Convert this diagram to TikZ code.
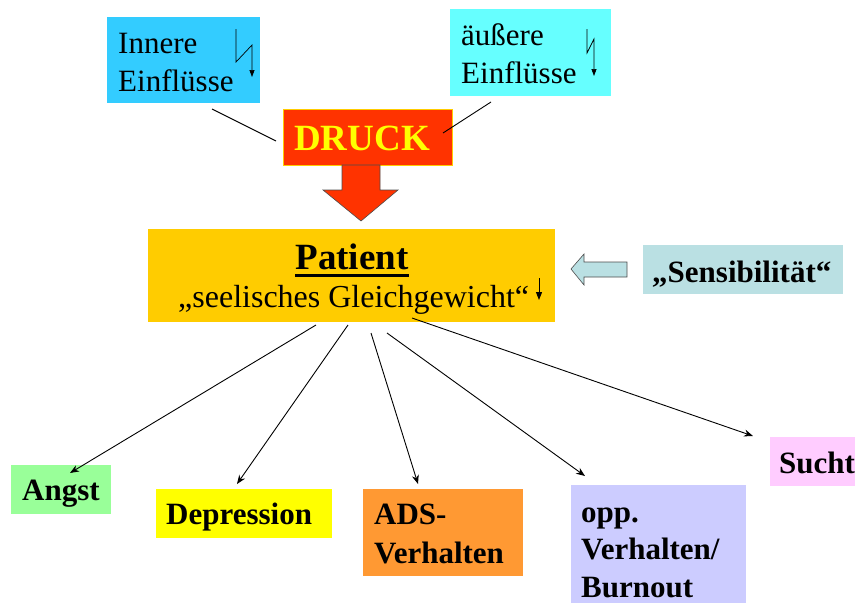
\documentclass[tikz,border=0pt]{standalone}
\usepackage{fontspec}
\setmainfont{Liberation Serif}
\usetikzlibrary{arrows.meta,calc}
\definecolor{cInner}{HTML}{33CCFF}
\definecolor{cOuter}{HTML}{66FFFF}
\definecolor{cDruck}{HTML}{FF3300}
\definecolor{cDruckTxt}{HTML}{FFFF00}
\definecolor{cPatient}{HTML}{FFCC00}
\definecolor{cSens}{HTML}{BAE0E3}
\definecolor{cAngst}{HTML}{99FF99}
\definecolor{cDep}{HTML}{FFFF00}
\definecolor{cADS}{HTML}{FF9933}
\definecolor{cOpp}{HTML}{CCCCFF}
\definecolor{cSucht}{HTML}{FFCCFF}
\begin{document}
\begin{tikzpicture}[x=1pt,y=-1pt,
  box/.style={anchor=north west,inner sep=0pt,outer sep=0pt},
  reg/.style={anchor=base west,inner sep=0pt,font=\fontsize{31}{38}\selectfont},
  bld/.style={anchor=base west,inner sep=0pt,font=\fontsize{31}{38}\selectfont\bfseries},
  conn/.style={line width=0.9pt},
  arr/.style={line width=0.9pt,-{Stealth[length=9pt,width=7pt]}},
  bolt/.style={line width=0.7pt,-{Triangle[length=7pt,width=5pt]}}]
\useasboundingbox (0,0) rectangle (855,603);

% top boxes
\node[box,fill=cInner,minimum width=153pt,minimum height=86pt] (inner) at (107,17) {};
\node[reg] (innerA) at (118,53) {Innere};
\node[reg] (innerB) at (118,91) {Einflüsse};
\draw[bolt] (236,29) -- (236,62) -- (252,45) -- (252,77);

\node[box,fill=cOuter,minimum width=161pt,minimum height=87pt] (outer) at (450,9) {};
\node[reg] (outerA) at (461,45) {äußere};
\node[reg] (outerB) at (461,83) {Einflüsse};
\draw[bolt] (587,29) -- (587,53) -- (594,39) -- (594,76);

% DRUCK
\node[box,fill=cDruck,draw=cPatient,line width=1pt,minimum width=169pt,minimum height=56pt] (druck) at (283,109) {};
\node[anchor=base,inner sep=0pt,text=cDruckTxt,font=\fontsize{37}{40}\selectfont\bfseries] (druckT) at (362,150) {DRUCK};

\coordinate (l1a) at (212,109); \coordinate (l1b) at (276,141);
\coordinate (l2a) at (443,133); \coordinate (l2b) at (491,102);
\draw[conn] (l1a) -- (l1b);
\draw[conn] (l2a) -- (l2b);

% down block arrow
\draw[fill=cDruck,draw=black!70,line width=0.6pt] (342,165) -- (380,165) -- (380,190) -- (398,190) -- (361,221) -- (323,190) -- (342,190) -- cycle;

% Patient
\node[box,fill=cPatient,minimum width=407pt,minimum height=93pt] (patient) at (148,229) {};
\node[anchor=base,inner sep=0pt,font=\fontsize{37}{40}\selectfont\bfseries] (patT) at (352,269) {Patient};
\draw[line width=3pt] ($(patT.base west)+(0,6.5)$) -- ($(patT.base east)+(0,6.5)$);
\node[reg,font=\fontsize{32}{38}\selectfont] (seel) at (178,307) {„seelisches Gleichgewicht“};
\draw[line width=1pt,-{Triangle[length=8pt,width=6pt]}] (539,278) -- (539,300);

% Sensibilitaet arrow and box
\draw[fill=cSens,draw=black!70,line width=0.6pt] (571,269) -- (584,254) -- (584,262) -- (627,262) -- (627,277) -- (584,277) -- (584,285) -- cycle;
\node[box,fill=cSens,minimum width=200pt,minimum height=49pt] (sens) at (643,245) {};
\node[bld] (sensT) at (652,282) {„Sensibilität“};

% bottom boxes
\node[box,fill=cAngst,minimum width=100pt,minimum height=49pt] (angst) at (11,465) {};
\node[bld] (angstT) at (22,500) {Angst};
\node[box,fill=cDep,minimum width=176pt,minimum height=49pt] (dep) at (156,489) {};
\node[bld] (depT) at (166,524) {Depression};
\node[box,fill=cADS,minimum width=160pt,minimum height=87pt] (ads) at (363,489) {};
\node[bld] (adsA) at (374,524) {ADS-};
\node[bld] (adsB) at (374,563) {Verhalten};
\node[box,fill=cOpp,minimum width=175pt,minimum height=130pt] (opp) at (571,485) {};
\node[bld] (oppA) at (581,522) {opp.};
\node[bld] (oppB) at (581,559) {Verhalten/};
\node[bld] (oppC) at (581,597) {Burnout};
\node[box,fill=cSucht,minimum width=120pt,minimum height=49pt] (sucht) at (770,437) {};
\node[bld] (suchtT) at (779,473) {Sucht};

% arrows from patient
\coordinate (s1) at (316,325); \coordinate (t1) at (70,473);
\coordinate (s2) at (348,325); \coordinate (t2) at (237,484);
\coordinate (s3) at (371,333); \coordinate (t3) at (418,484);
\coordinate (s4) at (387,333); \coordinate (t4) at (585,476);
\coordinate (s5) at (412,318); \coordinate (t5) at (753,436);
\draw[arr] (s1) -- (t1);
\draw[arr] (s2) -- (t2);
\draw[arr] (s3) -- (t3);
\draw[arr] (s4) -- (t4);
\draw[arr] (s5) -- (t5);
\end{tikzpicture}
\end{document}
